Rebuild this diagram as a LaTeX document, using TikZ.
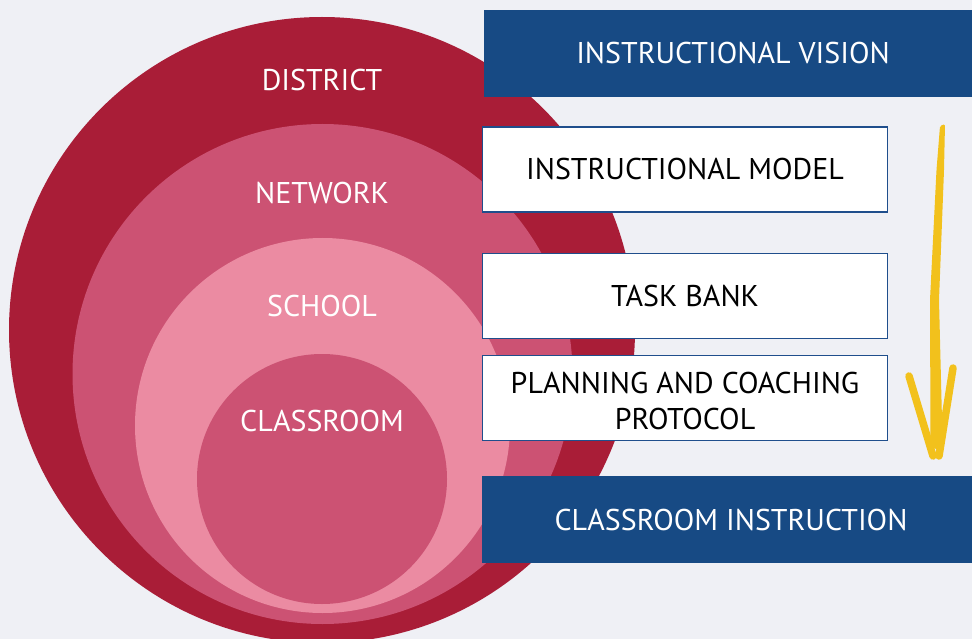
\documentclass[tikz,border=0pt]{standalone}
\usepackage{fontspec}
\setmainfont{PT Sans}
\definecolor{bg}{HTML}{EFF0F5}
\definecolor{dred}{HTML}{A91D37}
\definecolor{midred}{HTML}{CC5273}
\definecolor{pinkc}{HTML}{EB8BA2}
\definecolor{navy}{HTML}{174A84}
\definecolor{bordblue}{HTML}{1F4E8C}
\definecolor{gold}{HTML}{F2C11C}
\tikzset{
  ring/.style={circle, inner sep=0pt, draw=none},
  ringlabel/.style={text=white, font=\fontsize{30}{36}\selectfont, inner sep=0pt, anchor=center},
  darkbox/.style={fill=navy, draw=none, text=white, minimum width=498pt, minimum height=87pt, inner sep=0pt, font=\fontsize{30}{36}\selectfont},
  lightbox/.style={fill=white, draw=bordblue, line width=1.6pt, text=black, minimum width=405pt, minimum height=85pt, inner sep=0pt, align=center, font=\fontsize{30}{35.5}\selectfont},
  arrowstroke/.style={draw=gold, line width=7.5pt, line cap=round},
}
\begin{document}
\begin{tikzpicture}[x=1pt,y=-1pt]
\useasboundingbox (0,0) rectangle (972,639);
\fill[bg] (0,0) rectangle (972,639);
\begin{scope}
\clip (0,0) rectangle (972,639);
\node[ring, fill=dred, minimum size=626pt] (district) at (322,330) {};
\node[ring, fill=midred, minimum size=500pt] (network) at (322.5,374) {};
\node[ring, fill=pinkc, minimum size=375pt] (school) at (322.5,425.5) {};
\node[ring, fill=midred, minimum size=250pt] (classroom) at (322,479) {};
\node[ringlabel] (tdistrict) at (322,80) {DISTRICT};
\node[ringlabel] (tnetwork) at (322,193) {NETWORK};
\node[ringlabel] (tschool) at (322,306) {SCHOOL};
\node[ringlabel] (tclassroom) at (322,421) {CLASSROOM};

\node[darkbox] (vision) at (733,53.5) {INSTRUCTIONAL VISION};
\node[lightbox] (model) at (685,169.5) {INSTRUCTIONAL MODEL};
\node[lightbox] (task) at (685,296) {TASK BANK};
\node[lightbox] (plan) at (685,398) {};
\node[text=black, align=center, inner sep=0pt, font=\fontsize{30}{35.5}\selectfont] (plantext) at (685,401) {PLANNING AND COACHING\\PROTOCOL};
\node[darkbox] (instr) at (731,519.5) {CLASSROOM INSTRUCTION};

\coordinate (atop) at (942,125);
\coordinate (atip) at (937,448);
\coordinate (lbarb) at (909,376);
\coordinate (rbarb) at (953,368);
\fill[gold, rounded corners=1.5pt] (940,126) -- (936.5,170) -- (930,300) -- (930.5,440) -- (934.5,449) -- (940.5,449) -- (942.5,440) -- (939,300) -- (944,170) -- (945,124) -- cycle;
\draw[arrowstroke] (lbarb) -- ([xshift=-4pt,yshift=-8pt]atip);
\draw[arrowstroke] (rbarb) -- ([xshift=2pt,yshift=-8pt]atip);
\end{scope}
\end{tikzpicture}
\end{document}
